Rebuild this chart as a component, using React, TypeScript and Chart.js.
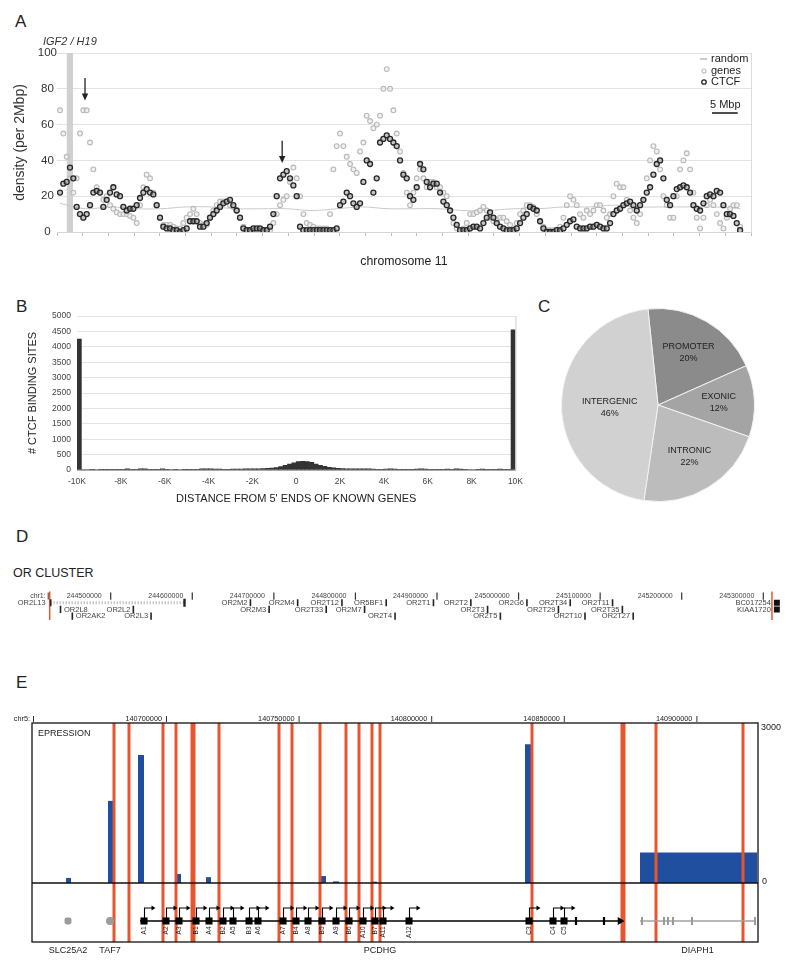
import React, { useEffect, useRef } from "react";
import { Chart, registerables } from "chart.js";

Chart.register(...registerables);

const FONT = "'Liberation Sans', Arial, Helvetica, sans-serif";

/* ---------------- Panel A : density along chromosome 11 ---------------- */
const chromStartMbp = 0.584;
const chromStepMbp = 0.6485;
const ctcfDensity = [
  22, 27, 28, 36, 30, 14, 10, 8, 10, 15,
  22, 23, 22, 14, 18, 22, 25, 21, 20, 14,
  12, 13, 13, 15, 19, 22, 24, 22, 21, 15,
  8, 3, 2, 2, 1, 1, 0, 1, 2, 6,
  6, 6, 3, 3, 5, 8, 10, 12, 14, 16,
  17, 18, 15, 12, 8, 2, 1, 1, 2, 2,
  2, 1, 1, 3, 10, 20, 30, 32, 34, 30,
  26, 20, 3, 1, 1, 1, 1, 1, 1, 1,
  1, 1, 1, 2, 15, 17, 22, 20, 16, 14,
  16, 28, 40, 38, 22, 30, 50, 52, 54, 52,
  50, 48, 40,
  32, 30, 20, 18, 25, 38, 35, 28, 25, 27,
  27, 22, 17, 15, 12, 8, 4, 1, 1, 1,
  2, 3, 3, 2, 5, 8, 11, 8, 5, 3,
  2, 1, 1, 1, 2, 5, 8, 10, 14, 13,
  12, 6, 2, 0, 0, 0, 1, 1, 2, 4,
  6, 7, 3, 2, 2, 2, 3, 3, 4, 3,
  2, 2, 5, 10, 12, 13, 15, 16, 17, 15,
  12, 15, 18, 22, 25, 32, 38, 40, 30, 18,
  15, 20, 24, 25, 26, 25, 22, 15, 13, 12,
  16, 20, 21, 20, 23, 22, 15, 10, 10, 9,
  5, 1,
];
const geneDensity = [
  68, 55, 42, 30, 22, 30, 55, 68, 68, 50,
  35, 25, 22, 18, 20, 15, 13, 11, 10, 10,
  10, 9, 8, 5, 15, 25, 32, 30, 22, 15,
  8, 4, 4, 4, 3, 2, 2, 5, 8, 10,
  13, 10, 5, 4, 4, 8, 12, 15, 17, 17,
  17, 15, 14, 12, 8, 3, 1, 1, 1, 1,
  1, 1, 1, 1, 5, 10, 15, 18, 20, 28,
  36, 30, 20, 10, 5, 4, 3, 2, 2, 2,
  2, 10, 35, 48, 55, 48, 42, 38, 35, 33,
  45, 50, 65, 62, 58, 60, 65, 80, 91, 80,
  68, 55, 45,
  33, 22, 15, 22, 30, 35, 30, 25, 28, 28,
  25, 25, 22, 20, 12, 5, 2, 1, 2, 5,
  10, 10, 11, 12, 14, 12, 8, 6, 7, 8,
  8, 6, 4, 2, 5, 10, 12, 15, 15, 14,
  10, 6, 3, 1, 1, 1, 1, 3, 8, 15,
  20, 18, 15, 10, 8, 12, 10, 12, 15, 15,
  12, 8, 10, 20, 27, 25, 25, 18, 12, 8,
  5, 10, 18, 30, 40, 48, 45, 35, 20, 15,
  8, 8, 20, 35, 40, 44, 35, 22, 8, 2,
  8, 15, 18, 15, 10, 5, 2, 8, 13, 15,
  15, 3,
];
const randomStartMbp = 0.6;
const randomStepMbp = 4.9;
const randomDensity = [16, 13, 14, 13, 13, 14, 14, 13, 13, 13, 12, 13, 14, 13, 13, 13, 12, 12, 13, 13, 14, 14, 15, 14, 14, 14, 14, 13];
const igf2Band = [1.9, 3.1];
const arrowMbp = [5.45, 43.8];
const arrowTop = [86, 51];
const arrowTip = [73.5, 38.5];
const scaleBarMbp = 5;

/* ---------------- Panel B : distance histogram ---------------- */
const tssBinStart = -10000;
const tssBinWidth = 200;
const tssCounts = [
  4250, 15, 15, 18, 15, 18, 20, 20, 18, 20,
  25, 35, 20, 25, 35, 35, 20, 20, 25, 35,
  20, 15, 18, 15, 18, 20, 20, 25, 35, 40,
  35, 30, 30, 25, 25, 30, 30, 30, 35, 35,
  40, 40, 45, 55, 60, 80, 110, 150, 190, 230,
  270, 285, 275, 250, 190, 150, 120, 90, 70, 55,
  45, 40, 40, 35, 35, 35, 35, 30, 25, 20,
  30, 35, 30, 25, 20, 20, 25, 30, 35, 30,
  25, 20, 20, 25, 30, 25, 35, 30, 20, 15,
  15, 25, 30, 20, 10, 25, 30, 25, 20, 4550,
];

/* ---------------- Panel C : pie ---------------- */
const genomicClasses = ["PROMOTER", "EXONIC", "INTRONIC", "INTERGENIC"];
const genomicShares = [20, 12, 22, 46];
const genomicColors = ["#8b8b8b", "#a4a4a4", "#bcbcbc", "#d1d1d1"];

/* ---------------- Panel D : OR cluster ---------------- */
const orRulerTicks = [244500000, 244600000, 244700000, 244800000, 244900000, 245000000, 245100000, 245200000, 245300000];
const orBoundaries = [244425211, 245310613];
const orGeneNames = [
  "OR2L13", "OR2M2", "OR2M4", "OR2T12", "OR5BF1", "OR2T1", "OR2T2", "OR2G6", "OR2T34", "OR2T11", "BC017254",
  "OR2L8", "OR2L2", "OR2M3", "OR2T33", "OR2M7", "OR2T3", "OR2T29", "OR2T35", "KIAA1720",
  "OR2AK2", "OR2L3", "OR2T4", "OR2T5", "OR2T10", "OR2T27",
];
const orGenePos = [
  244426418, 244671290, 244729191, 244783474, 244837756, 244895657, 244941495, 245010253, 245063328, 245115198, 245316645,
  244438480, 244527744, 244694209, 244764173, 244811218, 244962002, 245048853, 245127260, 245316645,
  244452955, 244549457, 244848612, 244977683, 245081422, 245140529,
];
const orGeneRow = [
  1, 1, 1, 1, 1, 1, 1, 1, 1, 1, 1,
  2, 2, 2, 2, 2, 2, 2, 2, 2,
  3, 3, 3, 3, 3, 3,
];
const orSpanGene = "OR2L13";
const orSpan = [244426418, 244590470];
const orBlockGenes = ["BC017254", "KIAA1720"];
const orLabelRight = ["OR2L8", "OR2AK2"];

/* ---------------- Panel E : PCDHG locus ---------------- */
const eRulerTicks = [140700000, 140750000, 140800000, 140850000, 140900000];
const exprStart = [140662293, 140678130, 140689442, 140703771, 140715083, 140758069, 140762971, 140777299, 140835368, 140878731];
const exprEnd = [140664178, 140680392, 140691704, 140705656, 140716968, 140760331, 140765233, 140779562, 140838008, 140922848];
const exprValue = [95, 1540, 2400, 170, 110, 130, 30, 25, 2600, 570];
const ctcfSites = [
  140680392, 140686048, 140698869, 140703771, 140709804, 140710558, 140719985, 140742609, 140747511,
  140758069, 140767873, 140772775, 140777676, 140780693, 140838008, 140871944, 140872698, 140884764, 140917569,
];
const pcdhgExonNames = ["A1", "A2", "A3", "B1", "A4", "B2", "A5", "B3", "A6", "A7", "B4", "A8", "B5", "A9", "B6", "A10", "B7", "A11", "A12", "C3", "C4", "C5"];
const pcdhgExonPos = [
  140691704, 140700000, 140704902, 140711312, 140716214, 140721493, 140725264, 140731297, 140734690, 140744117, 140749019,
  140753544, 140758823, 140764102, 140769004, 140774283, 140778808, 140781824, 140791628, 140836876, 140845926, 140850074,
];
const pcdhgSmallExons = [140854599, 140865157];
const pcdhgSpan = [140690196, 140871190];
const slc25a2Pos = 140663047;
const taf7Pos = 140678884;
const diaph1Span = [140878731, 140922094];
const diaph1Exons = [140879485, 140887781, 140889289, 140891174, 140898339, 140922094];
const eGeneNames = ["SLC25A2", "TAF7", "PCDHG", "DIAPH1"];
const eGeneCenters = [slc25a2Pos, taf7Pos, (pcdhgSpan[0] + pcdhgSpan[1]) / 2, (diaph1Span[0] + diaph1Span[1]) / 2];
const exprMax = 3000;
const eTrackLevel = -712;
const eAxisMin = -1106;

/* ---------------- configs ---------------- */
function configA(): any {
  const ctcfPts = ctcfDensity.map((v, i) => ({ x: chromStartMbp + i * chromStepMbp, y: v }));
  const genePts = geneDensity.map((v, i) => ({ x: chromStartMbp + i * chromStepMbp, y: v }));
  const randPts = randomDensity.map((v, i) => ({ x: randomStartMbp + i * randomStepMbp, y: v }));
  const plugin = {
    id: "panelA",
    beforeDatasetsDraw(chart: any) {
      const { ctx, scales: { x, y } } = chart;
      ctx.save();
      ctx.fillStyle = "#d0d0d0";
      const x0 = x.getPixelForValue(igf2Band[0]);
      const x1 = x.getPixelForValue(igf2Band[1]);
      const yt = y.getPixelForValue(100);
      const yb = y.getPixelForValue(0);
      ctx.fillRect(x0, yt, x1 - x0, yb - yt);
      ctx.restore();
    },
    afterDatasetsDraw(chart: any) {
      const { ctx, chartArea: ca, scales: { x, y } } = chart;
      ctx.save();
      ctx.strokeStyle = "#dcdcdc";
      ctx.lineWidth = 1;
      ctx.beginPath();
      ctx.moveTo(ca.right + 0.5, ca.top);
      ctx.lineTo(ca.right + 0.5, ca.bottom);
      ctx.stroke();
      // arrows
      ctx.strokeStyle = "#222";
      ctx.fillStyle = "#222";
      ctx.lineWidth = 1.3;
      arrowMbp.forEach((v, i) => {
        const px = x.getPixelForValue(v);
        const t = y.getPixelForValue(arrowTop[i]);
        const b = y.getPixelForValue(arrowTip[i]);
        ctx.beginPath();
        ctx.moveTo(px, t);
        ctx.lineTo(px, b - 5);
        ctx.stroke();
        ctx.beginPath();
        ctx.moveTo(px - 3.2, b - 7);
        ctx.lineTo(px + 3.2, b - 7);
        ctx.lineTo(px, b);
        ctx.closePath();
        ctx.fill();
      });
      // IGF2 label
      ctx.font = `italic 11px ${FONT}`;
      ctx.fillStyle = "#333";
      ctx.textAlign = "center";
      ctx.textBaseline = "middle";
      ctx.fillText("IGF2 / H19", (x.getPixelForValue(igf2Band[0]) + x.getPixelForValue(igf2Band[1])) / 2, ca.top - 11);
      // legend
      const lx = ca.right - 47;
      ctx.font = `11px ${FONT}`;
      ctx.textAlign = "left";
      ctx.fillStyle = "#222";
      ctx.strokeStyle = "#999";
      ctx.lineWidth = 1;
      ctx.beginPath();
      ctx.moveTo(lx - 4, ca.top + 6);
      ctx.lineTo(lx + 3, ca.top + 6);
      ctx.stroke();
      ctx.fillText("random", lx + 7, ca.top + 6);
      ctx.strokeStyle = "#bbb";
      ctx.lineWidth = 1.1;
      ctx.beginPath();
      ctx.arc(lx, ca.top + 18, 2, 0, Math.PI * 2);
      ctx.stroke();
      ctx.fillText("genes", lx + 7, ca.top + 18);
      ctx.strokeStyle = "#222";
      ctx.lineWidth = 1.3;
      ctx.beginPath();
      ctx.arc(lx, ca.top + 29, 2.2, 0, Math.PI * 2);
      ctx.stroke();
      ctx.fillText("CTCF", lx + 7, ca.top + 29);
      // scale bar
      ctx.fillText("5 Mbp", lx + 6, ca.top + 52);
      const w = x.getPixelForValue(scaleBarMbp) - x.getPixelForValue(0);
      ctx.lineWidth = 1.6;
      ctx.beginPath();
      ctx.moveTo(lx + 8, ca.top + 60);
      ctx.lineTo(lx + 8 + w, ca.top + 60);
      ctx.stroke();
      ctx.restore();
    },
  };
  return {
    type: "scatter",
    data: {
      datasets: [
        {
          data: ctcfPts,
          pointRadius: 2.5,
          pointBorderWidth: 1.3,
          pointBorderColor: "#262626",
          pointBackgroundColor: "rgba(150,150,150,0.55)",
        },
        {
          data: genePts,
          pointRadius: 2.4,
          pointBorderWidth: 1.1,
          pointBorderColor: "#b8b8b8",
          pointBackgroundColor: "rgba(235,235,235,0.7)",
        },
        {
          type: "line",
          data: randPts,
          showLine: true,
          pointRadius: 0,
          borderColor: "#cacaca",
          borderWidth: 1,
          tension: 0.4,
        },
      ],
    },
    options: {
      responsive: false,
      animation: false,
      layout: { padding: { top: 23, left: 0, right: 49, bottom: 8 } },
      plugins: { legend: { display: false }, tooltip: { enabled: false } },
      scales: {
        x: {
          type: "linear",
          min: 0,
          max: 135,
          afterFit: (s: any) => { s.height = 50; },
          ticks: { display: false, stepSize: 5 },
          grid: { drawOnChartArea: false, drawTicks: true, tickLength: 4, color: "#bdbdbd" },
          border: { color: "#d6d6d6" },
          title: { display: true, text: "chromosome 11", color: "#222", font: { family: FONT, size: 12.3 }, padding: { top: 0, bottom: 12.6 } },
        },
        y: {
          min: 0,
          max: 100,
          afterFit: (s: any) => { s.width = 57; },
          ticks: { stepSize: 20, color: "#333", font: { family: FONT, size: 11.5 }, padding: 0, crossAlign: "center" },
          grid: { color: "#e3e3e3", drawTicks: false },
          border: { display: false },
          title: { display: true, text: "density (per 2Mbp)", color: "#333", font: { family: FONT, size: 14 }, padding: { top: 12, bottom: 0 } },
        },
      },
    },
    plugins: [plugin],
  };
}

function configB(): any {
  const pts = tssCounts.map((v, i) => ({ x: tssBinStart + tssBinWidth / 2 + i * tssBinWidth, y: v }));
  const frame = {
    id: "frameB",
    afterDatasetsDraw(chart: any) {
      const { ctx, chartArea: ca } = chart;
      ctx.save();
      ctx.strokeStyle = "#cfcfcf";
      ctx.lineWidth = 1;
      ctx.beginPath();
      ctx.moveTo(ca.right + 0.5, ca.top);
      ctx.lineTo(ca.right + 0.5, ca.bottom);
      ctx.stroke();
      ctx.restore();
    },
  };
  return {
    type: "bar",
    data: {
      datasets: [{ data: pts, backgroundColor: "#333", borderWidth: 0, barPercentage: 1, categoryPercentage: 1 }],
    },
    options: {
      responsive: false,
      animation: false,
      layout: { padding: { top: 16, right: 13, bottom: 4, left: 0 } },
      plugins: { legend: { display: false }, tooltip: { enabled: false } },
      scales: {
        x: {
          type: "linear",
          offset: false,
          min: -10000,
          max: 10000,
          afterFit: (s: any) => { s.height = 36; },
          ticks: {
            stepSize: 2000,
            autoSkip: false,
            maxRotation: 0,
            padding: 7,
            color: "#444",
            font: { family: FONT, size: 8.5 },
            callback: (v: any) => (v === 0 ? "0" : `${v / 1000}K`),
          },
          grid: { display: false, drawTicks: false },
          border: { display: true, color: "#aaa" },
          title: { display: true, text: "DISTANCE FROM 5' ENDS OF KNOWN GENES", color: "#222", font: { family: FONT, size: 11 }, padding: { top: 0, bottom: 0 } },
        },
        y: {
          min: 0,
          max: 5000,
          afterFit: (s: any) => { s.width = 77; },
          ticks: { stepSize: 500, padding: 6, color: "#444", font: { family: FONT, size: 8.5 }, callback: (v: any) => String(v) },
          grid: { color: "#e3e3e3", drawTicks: false },
          border: { display: false },
          title: { display: true, text: "# CTCF BINDING SITES", color: "#222", font: { family: FONT, size: 11 }, padding: { top: 26, bottom: 0 } },
        },
      },
    },
    plugins: [frame],
  };
}

function configC(): any {
  const labels = {
    id: "pieLabels",
    afterDatasetsDraw(chart: any) {
      const { ctx } = chart;
      const meta = chart.getDatasetMeta(0);
      ctx.save();
      ctx.font = `9px ${FONT}`;
      ctx.fillStyle = "#222";
      ctx.textAlign = "center";
      ctx.textBaseline = "middle";
      meta.data.forEach((arc: any, i: number) => {
        const p = arc.getProps(["x", "y", "startAngle", "endAngle", "outerRadius"], true);
        const mid = (p.startAngle + p.endAngle) / 2;
        const share = genomicShares[i];
        const r = p.outerRadius * (share > 40 ? 0.5 : 0.63);
        const cx = p.x + Math.cos(mid) * r;
        const cy = p.y + Math.sin(mid) * r + (share > 40 ? 4 : 0);
        ctx.fillText(genomicClasses[i], cx, cy - 6);
        ctx.fillText(`${share}%`, cx, cy + 6);
      });
      ctx.restore();
    },
  };
  return {
    type: "pie",
    data: {
      labels: genomicClasses,
      datasets: [{ data: genomicShares, backgroundColor: genomicColors, borderColor: "#f2f2f2", borderWidth: 1 }],
    },
    options: {
      responsive: false,
      animation: false,
      rotation: -6,
      layout: { padding: 0 },
      plugins: { legend: { display: false }, tooltip: { enabled: false } },
    },
    plugins: [labels],
  };
}

function configD(): any {
  const yTop = -0.667;
  const yBot = 3.556;
  const blockPts: any[] = [];
  const tickPts: any[] = [];
  orGeneNames.forEach((n, i) => {
    const p = { x: orGenePos[i], y: orGeneRow[i] };
    if (orBlockGenes.includes(n)) blockPts.push(p);
    else tickPts.push(p);
  });
  const spanRow = orGeneRow[orGeneNames.indexOf(orSpanGene)];
  const datasets: any[] = [
    { data: blockPts, showLine: false, pointStyle: "rect", pointRadius: 4.2, pointBackgroundColor: "#111", pointBorderWidth: 0 },
    { data: tickPts, showLine: false, pointStyle: "line", pointRotation: 90, pointRadius: 3.6, pointBorderColor: "#222", pointBorderWidth: 1.6 },
    { data: [{ x: orSpan[1], y: spanRow }], showLine: false, pointStyle: "line", pointRotation: 90, pointRadius: 4, pointBorderColor: "#222", pointBorderWidth: 2.4 },
    {
      data: [{ x: orSpan[0], y: spanRow }, { x: orSpan[1], y: spanRow }],
      showLine: true, pointRadius: 0, borderColor: "#b0b0b0", borderWidth: 3, borderDash: [1, 2],
    },
    { data: orRulerTicks.map((t) => ({ x: t, y: 0 })), showLine: false, pointStyle: "line", pointRotation: 90, pointRadius: 3.6, pointBorderColor: "#333", pointBorderWidth: 1.2 },
    ...orBoundaries.map((b) => ({
      data: [{ x: b, y: yTop }, { x: b, y: yBot }],
      showLine: true, pointRadius: 0, borderColor: "#e8542d", borderWidth: 1.5,
    })),
  ];
  const labels = {
    id: "orLabels",
    afterDatasetsDraw(chart: any) {
      const { ctx, scales: { x, y } } = chart;
      ctx.save();
      ctx.textBaseline = "middle";
      ctx.fillStyle = "#444";
      ctx.font = `7px ${FONT}`;
      ctx.textAlign = "right";
      const ry = y.getPixelForValue(0);
      orRulerTicks.forEach((t) => ctx.fillText(String(t), x.getPixelForValue(t) - 9, ry));
      const bx = x.getPixelForValue(orBoundaries[0]);
      ctx.fillText("chr1:", bx - 4, ry);
      ctx.strokeStyle = "#333";
      ctx.lineWidth = 1;
      ctx.beginPath();
      ctx.moveTo(bx - 1.5, ry - 3.5);
      ctx.lineTo(bx - 1.5, ry + 3.5);
      ctx.stroke();
      ctx.font = `7.5px ${FONT}`;
      orGeneNames.forEach((n, i) => {
        const px = x.getPixelForValue(orGenePos[i]);
        const py = y.getPixelForValue(orGeneRow[i]);
        if (orLabelRight.includes(n)) {
          ctx.textAlign = "left";
          ctx.fillText(n, px + 3.5, py);
        } else {
          ctx.textAlign = "right";
          const gap = n === orSpanGene ? 5 : orBlockGenes.includes(n) ? 6 : 3;
          ctx.fillText(n, px - gap, py);
        }
      });
      ctx.restore();
    },
  };
  return {
    type: "line",
    data: { datasets },
    options: {
      responsive: false,
      animation: false,
      layout: { padding: 0 },
      plugins: { legend: { display: false }, tooltip: { enabled: false } },
      scales: {
        x: { type: "linear", display: false, min: 244372135, max: 245337151 },
        y: { type: "linear", display: false, min: -1.444, max: 4.111, reverse: true },
      },
    },
    plugins: [labels],
  };
}

function configE(): any {
  const red = "#e8542d";
  const blue = "#1f4f9e";
  const datasets: any[] = [
    {
      data: pcdhgExonPos.map((p) => ({ x: p, y: eTrackLevel })),
      showLine: false, pointStyle: "rect", pointRadius: 5, pointBackgroundColor: "#000", pointBorderWidth: 0,
    },
    {
      data: pcdhgSmallExons.map((p) => ({ x: p, y: eTrackLevel })),
      showLine: false, pointStyle: "line", pointRotation: 90, pointRadius: 4, pointBorderColor: "#000", pointBorderWidth: 2.2,
    },
    {
      data: [{ x: pcdhgSpan[1], y: eTrackLevel }],
      showLine: false, pointStyle: "triangle", pointRotation: 90, pointRadius: 4.5, pointBackgroundColor: "#000", pointBorderWidth: 0,
    },
    {
      data: [{ x: pcdhgSpan[0], y: eTrackLevel }, { x: pcdhgSpan[1], y: eTrackLevel }],
      showLine: true, pointRadius: 0, borderColor: "#000", borderWidth: 1.5,
    },
    {
      data: [{ x: slc25a2Pos, y: eTrackLevel }],
      showLine: false, pointStyle: "rectRounded", pointRadius: 4, pointBackgroundColor: "#9c9c9c", pointBorderWidth: 0,
    },
    {
      data: [{ x: taf7Pos, y: eTrackLevel }],
      showLine: false, pointStyle: "circle", pointRadius: 4, pointBackgroundColor: "#9c9c9c", pointBorderWidth: 0,
    },
    {
      data: diaph1Exons.map((p) => ({ x: p, y: eTrackLevel })),
      showLine: false, pointStyle: "line", pointRotation: 90, pointRadius: 4, pointBorderColor: "#999", pointBorderWidth: 2,
    },
    {
      data: [{ x: diaph1Span[0], y: eTrackLevel }, { x: diaph1Span[1], y: eTrackLevel }],
      showLine: true, pointRadius: 0, borderColor: "#a0a0a0", borderWidth: 1.5,
    },
    ...ctcfSites.map((s) => ({
      data: [{ x: s, y: eAxisMin }, { x: s, y: exprMax }],
      showLine: true, pointRadius: 0, borderColor: red, borderWidth: 3,
    })),
    ...exprValue.map((v, i) => ({
      data: [{ x: exprStart[i], y: v }, { x: exprEnd[i], y: v }],
      showLine: true, pointRadius: 0, borderColor: "rgba(0,0,0,0)", borderWidth: 0, fill: "origin", backgroundColor: blue,
    })),
  ];
  const plugin = {
    id: "panelE",
    afterDatasetsDraw(chart: any) {
      const { ctx, chartArea: ca, scales: { x, y } } = chart;
      ctx.save();
      const trackY = y.getPixelForValue(eTrackLevel);
      // TSS arrows
      ctx.strokeStyle = "#000";
      ctx.fillStyle = "#000";
      ctx.lineWidth = 1.1;
      pcdhgExonPos.forEach((p) => {
        const px = Math.round(x.getPixelForValue(p)) + 0.5;
        const top = trackY - 13;
        ctx.beginPath();
        ctx.moveTo(px, trackY - 3);
        ctx.lineTo(px, top);
        ctx.lineTo(px + 8, top);
        ctx.stroke();
        ctx.beginPath();
        ctx.moveTo(px + 11, top);
        ctx.lineTo(px + 7, top - 2.5);
        ctx.lineTo(px + 7, top + 2.5);
        ctx.closePath();
        ctx.fill();
      });
      // exon labels
      ctx.font = `6.5px ${FONT}`;
      ctx.fillStyle = "#222";
      ctx.textBaseline = "middle";
      ctx.textAlign = "right";
      pcdhgExonNames.forEach((n, i) => {
        const px = x.getPixelForValue(pcdhgExonPos[i]);
        ctx.save();
        ctx.translate(px, trackY + 5.5);
        ctx.rotate(-Math.PI / 2);
        ctx.fillText(n, 0, 0);
        ctx.restore();
      });
      // frame + zero line
      ctx.strokeStyle = "#111";
      ctx.lineWidth = 1.3;
      ctx.strokeRect(ca.left, ca.top, ca.right - ca.left, ca.bottom - ca.top);
      const zy = y.getPixelForValue(0);
      ctx.beginPath();
      ctx.moveTo(ca.left, zy);
      ctx.lineTo(ca.right, zy);
      ctx.stroke();
      // axis labels
      ctx.font = `9px ${FONT}`;
      ctx.fillStyle = "#222";
      ctx.textAlign = "left";
      ctx.fillText(String(exprMax), ca.right + 3, y.getPixelForValue(exprMax) + 5);
      ctx.fillText("0", ca.right + 4, zy - 1);
      ctx.fillText("EPRESSION", ca.left + 6, ca.top + 11);
      // gene names
      ctx.textAlign = "center";
      eGeneNames.forEach((n, i) => ctx.fillText(n, x.getPixelForValue(eGeneCenters[i]), ca.bottom + 9));
      // ruler
      ctx.font = `7.3px ${FONT}`;
      ctx.textAlign = "right";
      ctx.lineWidth = 1;
      ctx.strokeStyle = "#333";
      eRulerTicks.forEach((t) => {
        const px = x.getPixelForValue(t);
        ctx.fillText(String(t), px - 4, ca.top - 4);
        ctx.beginPath();
        ctx.moveTo(px + 0.5, ca.top - 7);
        ctx.lineTo(px + 0.5, ca.top - 1);
        ctx.stroke();
      });
      ctx.fillText("chr5:", ca.left - 2, ca.top - 4);
      ctx.beginPath();
      ctx.moveTo(ca.left + 1.5, ca.top - 7);
      ctx.lineTo(ca.left + 1.5, ca.top - 1);
      ctx.stroke();
      ctx.restore();
    },
  };
  return {
    type: "line",
    data: { datasets },
    options: {
      responsive: false,
      animation: false,
      layout: { padding: { left: 32, right: 42, top: 23, bottom: 24 } },
      plugins: { legend: { display: false }, tooltip: { enabled: false } },
      scales: {
        x: { type: "linear", display: false, min: 140649473, max: 140923226 },
        y: { type: "linear", display: false, min: eAxisMin, max: exprMax },
      },
    },
    plugins: [plugin],
  };
}

function ChartCanvas(props: { left: number; top: number; width: number; height: number; make: () => any }) {
  const { left, top, width, height, make } = props;
  const ref = useRef<HTMLCanvasElement>(null);
  useEffect(() => {
    const chart = new Chart(ref.current as HTMLCanvasElement, make());
    return () => chart.destroy();
  }, []);
  return (
    <div style={{ position: "absolute", left, top, width, height }}>
      <canvas ref={ref} width={width} height={height} style={{ width, height, display: "block" }} />
    </div>
  );
}

function Letter(props: { text: string; left: number; top: number; size?: number }) {
  const size = props.size ?? 17;
  return (
    <div
      style={{
        position: "absolute",
        left: props.left,
        top: props.top,
        fontFamily: FONT,
        fontSize: size,
        lineHeight: `${size}px`,
        color: "#222",
        whiteSpace: "nowrap",
      }}
    >
      {props.text}
    </div>
  );
}

export default function App() {
  return (
    <div style={{ position: "absolute", left: 0, top: 0, width: 800, height: 966, background: "#fff", overflow: "hidden" }}>
      <Letter text="A" left={15} top={12.5} />
      <Letter text="B" left={16} top={297.5} />
      <Letter text="C" left={538} top={297.5} />
      <Letter text="D" left={16} top={527.5} />
      <Letter text="E" left={16} top={673.5} />
      <Letter text="OR CLUSTER" left={13} top={566.5} size={12.5} />
      <ChartCanvas left={0} top={30} width={800} height={260} make={configA} />
      <ChartCanvas left={0} top={300} width={530} height={210} make={configB} />
      <ChartCanvas left={561} top={308} width={194} height={194} make={configC} />
      <ChartCanvas left={0} top={580} width={800} height={50} make={configD} />
      <ChartCanvas left={0} top={700} width={800} height={266} make={configE} />
    </div>
  );
}
